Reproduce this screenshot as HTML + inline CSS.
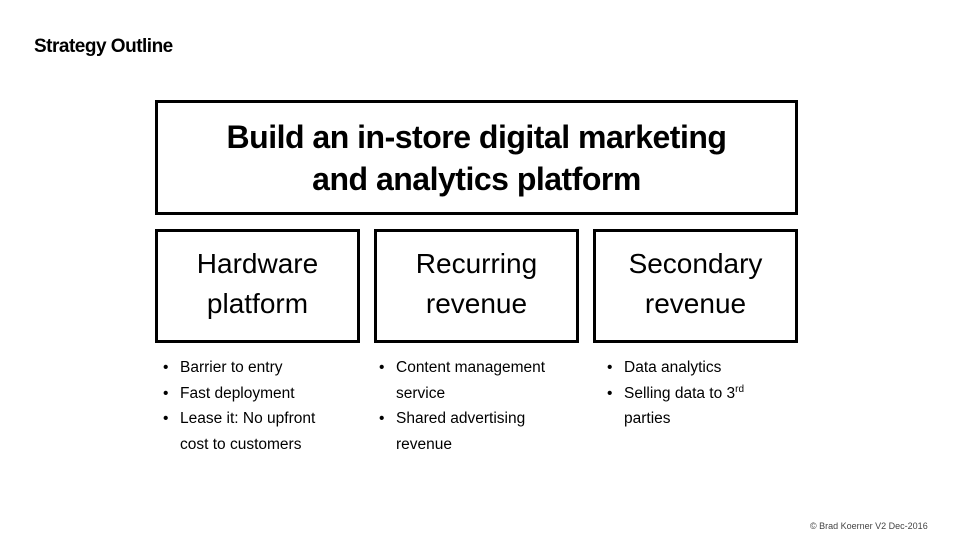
<!DOCTYPE html>
<html><head><style>
body{margin:0;width:960px;height:540px;background:#fff;position:relative;font-family:"Liberation Sans",sans-serif;color:#000;overflow:hidden}
.a{position:absolute}
.box{position:absolute;border:3px solid #000;box-sizing:border-box;display:flex;align-items:center;justify-content:center;text-align:center}
ul{position:absolute;margin:0;padding:0;list-style:none;font-size:15.5px;line-height:25.5px}
li{position:relative;padding-left:20px}
li:before{content:"•";position:absolute;left:3px}
</style></head><body>
<div class="a" style="left:34px;top:36px;font-size:19px;font-weight:bold;letter-spacing:-0.5px">Strategy Outline</div>
<div class="box" style="left:155px;top:100px;width:643px;height:115px;font-size:32px;font-weight:bold;line-height:42px;letter-spacing:-0.5px">Build an in-store digital marketing<br>and analytics platform</div>
<div class="box" style="left:155px;top:229px;width:205px;height:114px;font-size:28px;line-height:40px;padding-bottom:4px">Hardware<br>platform</div>
<div class="box" style="left:374px;top:229px;width:205px;height:114px;font-size:28px;line-height:40px;padding-bottom:4px">Recurring<br>revenue</div>
<div class="box" style="left:593px;top:229px;width:205px;height:114px;font-size:28px;line-height:40px;padding-bottom:4px">Secondary<br>revenue</div>
<ul style="left:160px;top:355px;width:170px"><li>Barrier to entry</li><li>Fast deployment</li><li>Lease it: No upfront cost to customers</li></ul>
<ul style="left:376px;top:355px;width:185px"><li>Content management service</li><li>Shared advertising revenue</li></ul>
<ul style="left:604px;top:355px;width:190px"><li>Data analytics</li><li>Selling data to 3<sup style="font-size:10px;line-height:0">rd</sup> parties</li></ul>
<div class="a" style="left:810px;top:521px;font-size:9px;color:#444">© Brad Koerner V2 Dec-2016</div>
</body></html>
